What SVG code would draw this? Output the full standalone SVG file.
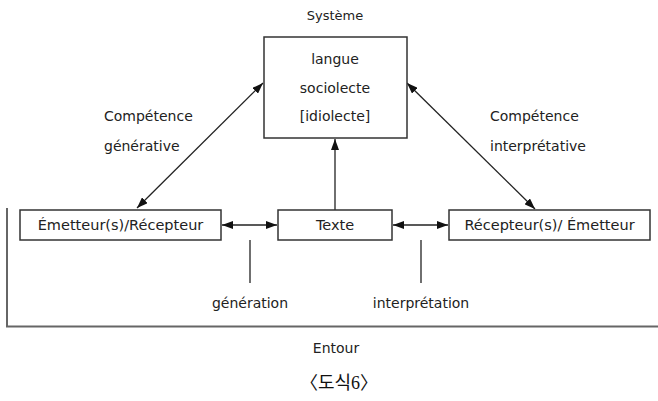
<svg xmlns="http://www.w3.org/2000/svg" width="658" height="401" viewBox="0 0 658 401">
<style>
.t{font-family:"DejaVu Sans","Liberation Sans",sans-serif;font-size:14px;fill:#222}
.b{font-size:14.5px}
.m{text-anchor:middle}
.box{fill:#fff;stroke:#333;stroke-width:1.5}
.ln{stroke:#222;stroke-width:1.3;fill:none}
</style>
<defs>
<marker id="ah" viewBox="0 0 11 8" refX="11" refY="4" markerWidth="11" markerHeight="8" markerUnits="userSpaceOnUse" orient="auto-start-reverse">
<path d="M0,0 L11,4 L0,8 Z" fill="#111"/>
</marker>
</defs>
<g id="entour">
<path d="M7,208 L7,326.5 L658,326.5" fill="none" stroke="#666" stroke-width="2"/>
<text class="t m" x="336" y="353">Entour</text>
</g>
<g id="connectors">
<line class="ln" x1="137" y1="208" x2="263" y2="83" marker-start="url(#ah)" marker-end="url(#ah)"/>
<line class="ln" x1="407" y1="83" x2="535" y2="209" marker-start="url(#ah)" marker-end="url(#ah)"/>
<line class="ln" x1="335" y1="210" x2="335" y2="139" marker-end="url(#ah)"/>
<line class="ln" x1="222" y1="225" x2="277" y2="225" marker-start="url(#ah)" marker-end="url(#ah)"/>
<line class="ln" x1="393" y1="225" x2="448" y2="225" marker-start="url(#ah)" marker-end="url(#ah)"/>
<line class="ln" x1="250" y1="240" x2="250" y2="283"/>
<line class="ln" x1="421" y1="240" x2="421" y2="283"/>
</g>
<g id="systeme">
<text class="t m" x="335" y="20" style="font-size:13px">Système</text>
<rect class="box" x="264" y="37" width="143" height="101"/>
<text class="t m" x="335" y="64">langue</text>
<text class="t m" x="335" y="93">sociolecte</text>
<text class="t m" x="335" y="121">[idiolecte]</text>
</g>
<g id="emetteur">
<rect class="box" x="20" y="210" width="201" height="30"/>
<text class="t b m" x="120.5" y="230">Émetteur(s)/Récepteur</text>
</g>
<g id="texte">
<rect class="box" x="278" y="210" width="114" height="30"/>
<text class="t b m" x="335" y="230">Texte</text>
</g>
<g id="recepteur">
<rect class="box" x="449" y="210" width="201" height="30"/>
<text class="t b m" x="549.5" y="230">Récepteur(s)/ Émetteur</text>
</g>
<g id="labels">
<text class="t" x="104" y="121">Compétence</text>
<text class="t" x="104" y="151">générative</text>
<text class="t" x="490" y="121">Compétence</text>
<text class="t" x="490" y="151">interprétative</text>
<text class="t m" x="250" y="308">génération</text>
<text class="t m" x="421" y="308">interprétation</text>
</g>
<text x="339" y="389" text-anchor="middle" style="font-family:'Liberation Serif','Noto Sans CJK KR',serif;font-size:18px;fill:#111">〈도식6〉</text>
</svg>
